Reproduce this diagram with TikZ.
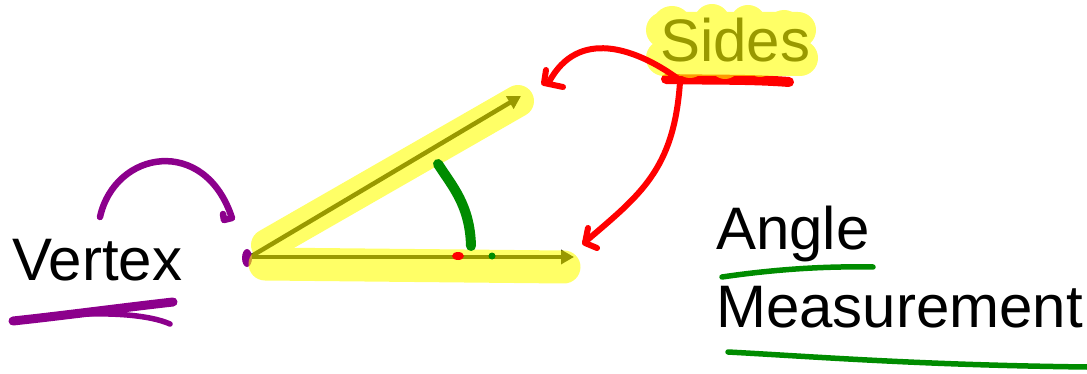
\documentclass[tikz,border=0pt]{standalone}
\usepackage{fontspec}
\setmainfont{Liberation Sans}
\usetikzlibrary{arrows.meta}
\definecolor{penred}{RGB}{255,0,0}
\definecolor{pengreen}{RGB}{0,140,0}
\definecolor{penpurple}{RGB}{140,0,140}
\definecolor{hlyellow}{RGB}{255,255,0}
\tikzset{
  lbl/.style={anchor=base west, inner sep=0pt, font=\fontsize{60}{63}\selectfont},
  ray/.style={draw=black, line width=4.5pt, -{Triangle[length=13pt,width=14pt]}},
  hl/.style={draw=hlyellow, line cap=round, line join=round},
  redpen/.style={draw=penred, line width=6pt, line cap=round, line join=round},
  greenpen/.style={draw=pengreen, line width=5.5pt, line cap=round, line join=round},
  purplepen/.style={draw=penpurple, line width=6.5pt, line cap=round, line join=round}
}
\begin{document}
\begin{tikzpicture}[x=1pt,y=-1pt]
\useasboundingbox (0,0) rectangle (1087,374);

% labels
\node[lbl] (vertex) at (12,280) {Vertex};
\node[lbl] (angle) at (716,250) {Angle};
\node[lbl] (meas) at (716,327) {Measurement};
\node[lbl] (sides) at (660,62) {Sides};

% the angle: vertex and two rays
\coordinate (V) at (250,257);
\coordinate (A) at (574,257);
\coordinate (B) at (521,96);
\draw[ray] (V) -- (A);
\draw[ray] (V) -- (B);

% ink under the highlighter
\fill[penpurple] (247,258) ellipse [x radius=5, y radius=9];
\draw[redpen, line width=10pt] (666,79) .. controls (710,80) and (750,79) .. (789,82);

% highlighter strokes
\begin{scope}[transparency group, opacity=0.6]
  \draw[hl, line width=33pt] (265,264) -- (564,267);
  \draw[hl, line width=32pt] (267,245) -- (518,101);
  \draw[hl, line width=36pt] (664,30) -- (798,30);
  \draw[hl, line width=36pt] (664,58) -- (800,58);
  \fill[hlyellow] (672,26) circle (20) (712,22) circle (18) (748,23) circle (18) (784,28) circle (18)
                  (690,62) circle (16) (725,64) circle (15) (760,62) circle (15);
\end{scope}

% angle mark
\draw[pengreen, line width=10pt, line cap=round] (438,164) .. controls (452,186) and (470,205) .. (471,246);
\fill[pengreen] (492,256) circle (3.5);
\fill[penred] (458,256) ellipse [x radius=6, y radius=4];

% red pointers from "Sides" to the two rays
\coordinate (s1) at (677,78);
\coordinate (t1) at (549,82);
\coordinate (s2) at (680,82);
\coordinate (t2) at (585,242);
\draw[redpen] (s1) .. controls (635,48) and (578,28) .. (t1);
\draw[redpen] (t1) ++(-3,-12) -- ++(-2,13) -- ++(19,4);
\draw[redpen] (s2) .. controls (674,170) and (640,195) .. (t2);
\draw[redpen] (t2) ++(3,-14) -- ++(-3,15) -- ++(12,5);

% vertex pointer and underline
\coordinate (pv) at (100,217);
\coordinate (pe) at (232,218);
\draw[purplepen] (pv) .. controls (115,150) and (205,135) .. (pe) -- (224,220) -- (223,214);
\draw[purplepen, line width=9pt] (13,321) .. controls (60,316) and (120,308) .. (173,302);
\draw[purplepen, line width=5.5pt] (68,315) .. controls (110,312) and (150,315) .. (170,324);

% underlines of the angle labels
\draw[greenpen] (722,277) .. controls (770,270) and (820,266) .. (873,267);
\draw[greenpen] (728,352) .. controls (820,357) and (920,365) .. (1087,367);
\end{tikzpicture}
\end{document}
